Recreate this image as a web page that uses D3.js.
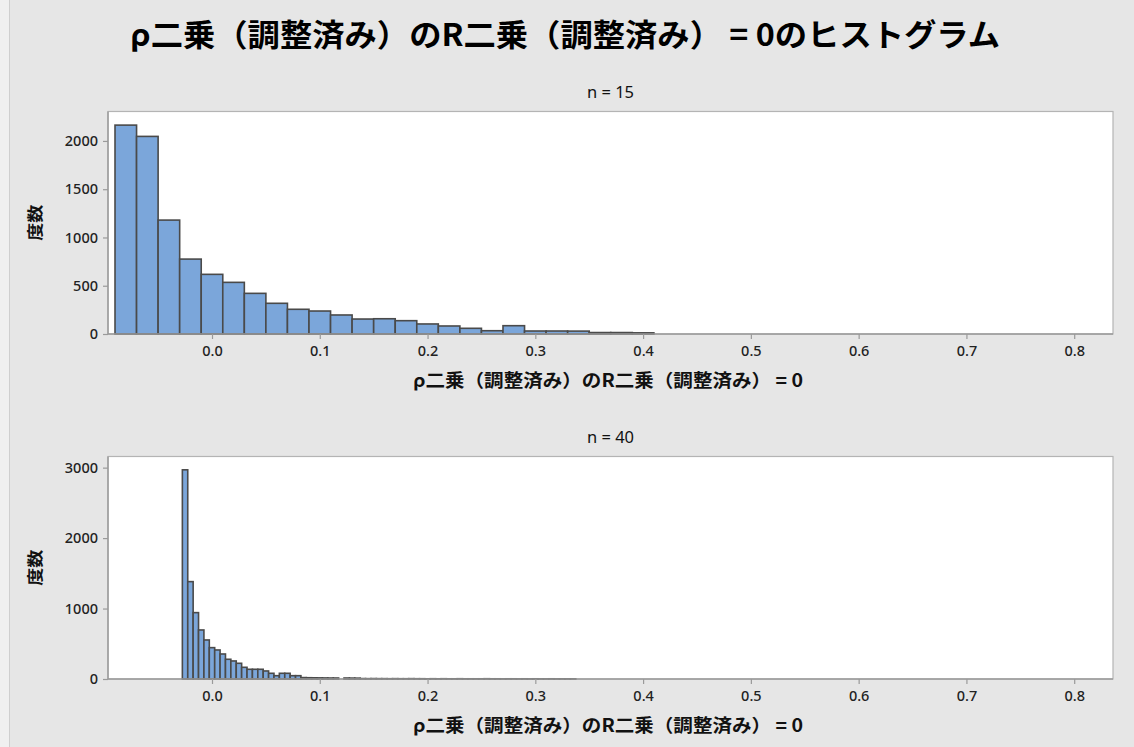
<!DOCTYPE html>
<html><head><meta charset="utf-8">
<script src="https://cdn.jsdelivr.net/npm/d3@7"></script>
<style>body{margin:0;background:#e6e6e6;} svg{display:block}</style>
</head><body>
<svg id="c" width="1134" height="747"></svg>
<script>
// ---- data ----
const titleText = "ρ二乗（調整済み）のR二乗（調整済み） = 0のヒストグラム";
const xLabelText = "ρ二乗（調整済み）のR二乗（調整済み） = 0";
const yLabelText = "度数";
const panelTitles = ["n = 15", "n = 40"];
const xTicks = [0.0, 0.1, 0.2, 0.3, 0.4, 0.5, 0.6, 0.7, 0.8];
const xTickLabels = ["0.0", "0.1", "0.2", "0.3", "0.4", "0.5", "0.6", "0.7", "0.8"];
const yTicks15 = [0, 500, 1000, 1500, 2000];
const yTicks40 = [0, 1000, 2000, 3000];
const xDomain = [-0.0965, 0.836];
const yMax15 = 2305;
const yMax40 = 3158;
// n = 15 histogram: bins of width 0.02 starting at -0.09
const binStart15 = -0.09;
const binWidth15 = 0.02;
const counts15 = [2164, 2047, 1180, 776, 618, 535, 421, 318, 256, 238, 197, 155, 158, 138, 104, 83, 59, 34, 86, 31, 31, 30, 15, 15, 12];
// n = 40 histogram: bins of width 0.005 starting at -0.0275
const binStart40 = -0.0275;
const binWidth40 = 0.005;
const counts40 = [2969, 1382, 942, 696, 554, 445, 412, 355, 280, 256, 223, 166, 138, 138, 138, 114, 81, 47, 81, 81,
  47, 47, 20, 18, 17, 16, 15, 14, 14, 0, 14, 13, 12, 6, 5, 6, 5, 5, 4, 5, 4, 4,
  5, 4, 4, 3, 4, 3, 4, 3, 3, 4, 3, 3, 3, 3, 4, 3, 3, 2, 3, 3, 2, 3, 2, 3, 2, 2, 3, 2, 2, 2, 2];

// ---- drawing ----
const svg = d3.select("#c");
const W = 1134, H = 747;
svg.append("rect").attr("x", 0).attr("y", 0).attr("width", W).attr("height", H).attr("fill", "#f0f0f0");
svg.append("rect").attr("x", 9).attr("y", 0).attr("width", W - 9).attr("height", H).attr("fill", "#e6e6e6");
svg.append("line").attr("x1", 9.5).attr("x2", 9.5).attr("y1", 0).attr("y2", H).attr("stroke", "#cfcfcf");

const cjk = "'Noto Sans CJK JP', 'Noto Sans', sans-serif";
const latin = "'Noto Sans', 'DejaVu Sans', sans-serif";

svg.append("text").text(titleText)
  .attr("x", 565).attr("y", 46).attr("text-anchor", "middle")
  .attr("font-family", cjk).attr("font-weight", "bold").attr("font-size", 31)
  .attr("textLength", 870).attr("lengthAdjust", "spacingAndGlyphs").attr("fill", "#000");

const x = d3.scaleLinear().domain(xDomain).range([108, 1113]);

function panel(top, bottom, yMax, yTicks, binStart, binWidth, counts, title) {
  const y = d3.scaleLinear().domain([0, yMax]).range([bottom, top]);
  const g = svg.append("g");
  g.append("rect").attr("x", x.range()[0]).attr("y", top)
    .attr("width", x.range()[1] - x.range()[0]).attr("height", bottom - top)
    .attr("fill", "#fff").attr("stroke", "#b4b4b4").attr("stroke-width", 1.2);

  const bins = counts.map((c, i) => ({ x0: binStart + i * binWidth, x1: binStart + (i + 1) * binWidth, c }));
  g.selectAll("rect.bar").data(bins.filter(b => b.c > 0)).join("rect")
    .attr("class", "bar")
    .attr("x", d => x(d.x0)).attr("width", d => x(d.x1) - x(d.x0))
    .attr("y", d => y(d.c)).attr("height", d => y(0) - y(d.c))
    .attr("fill", "#7ba6da").attr("stroke", "#4a4a4a").attr("stroke-width", 1.6);

  const xa = d3.axisBottom(x).tickValues(xTicks).tickFormat((d, i) => xTickLabels[i]).tickSize(5).tickPadding(7);
  const gx = g.append("g").attr("transform", `translate(0,${bottom})`).call(xa);
  const ya = d3.axisLeft(y).tickValues(yTicks).tickSize(5).tickPadding(5).tickFormat(d3.format("d"));
  const gy = g.append("g").attr("transform", `translate(${x.range()[0]},0)`).call(ya);
  [gx, gy].forEach(a => {
    a.select(".domain").attr("stroke", "#9a9a9a").attr("stroke-width", 1.4);
    a.selectAll(".tick line").attr("stroke", "#9a9a9a").attr("stroke-width", 1.2);
    a.selectAll(".tick text").attr("font-family", latin).attr("font-size", 14.5).attr("font-weight", 500).attr("fill", "#222");
  });
  gy.select(".domain").attr("d", `M0,${top}V${bottom}`);
  gx.select(".domain").attr("d", `M${x.range()[0]},0H${x.range()[1]}`);

  g.append("text").text(title).attr("x", (x.range()[0] + x.range()[1]) / 2).attr("y", top - 14)
    .attr("text-anchor", "middle").attr("font-family", latin).attr("font-size", 16.5).attr("fill", "#111");
  g.append("text").text(xLabelText).attr("x", 608).attr("y", bottom + 53)
    .attr("text-anchor", "middle").attr("font-family", cjk).attr("font-weight", "bold").attr("font-size", 18)
    .attr("textLength", 390).attr("lengthAdjust", "spacingAndGlyphs").attr("fill", "#111");
  g.append("text").text(yLabelText)
    .attr("transform", `translate(41,${(top + bottom) / 2}) rotate(-90)`)
    .attr("text-anchor", "middle").attr("font-family", cjk).attr("font-weight", "bold").attr("font-size", 16)
    .attr("textLength", 36).attr("lengthAdjust", "spacingAndGlyphs").attr("fill", "#111");
}

panel(111.5, 334, yMax15, yTicks15, binStart15, binWidth15, counts15, panelTitles[0]);
panel(456.5, 679, yMax40, yTicks40, binStart40, binWidth40, counts40, panelTitles[1]);
</script>
</body></html>
